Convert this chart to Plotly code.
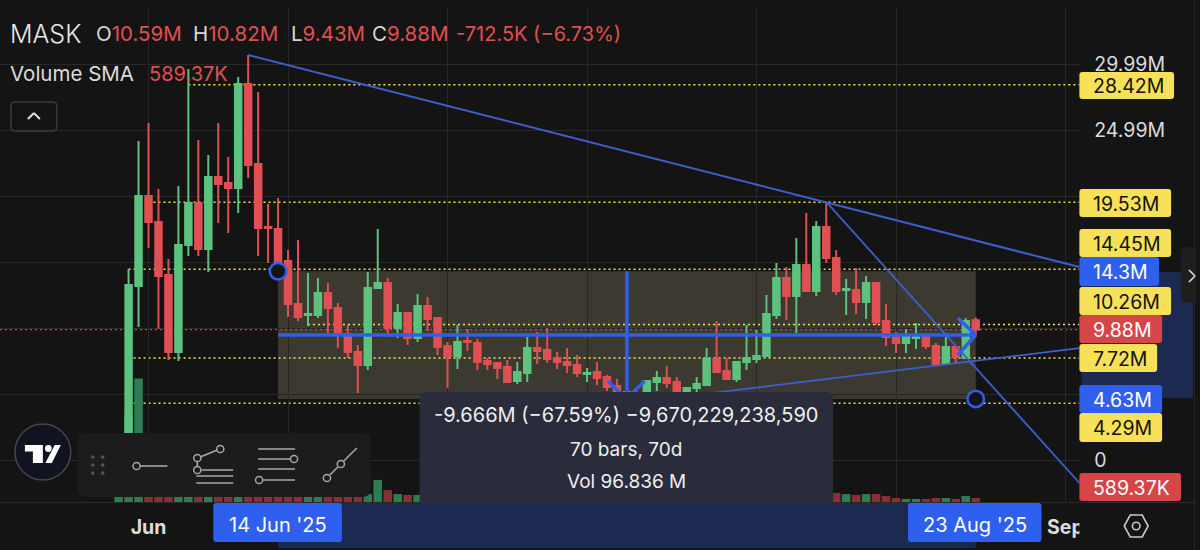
import pandas as pd
import plotly.graph_objects as go

FIRST_DAY = "2025-05-29"
opens = [1.6,1.5,13.18,20.0,18.03,14.02,8.18,16.29,19.47,15.98,21.44,20.98,20.61,28.48,22.42,17.65,17.5,15.08,11.82,10.98,10.98,12.65,11.52,9.55,8.18,7.2,13.03,13.41,10.0,11.14,9.24,11.67,10.76,8.64,7.88,9.02,8.86,7.5,7.35,7.05,5.98,6.59,8.48,8.33,7.73,7.42,7.2,6.52,6.67,6.29,5.61,5.15,4.85,4.78,5.91,6.21,5.91,5.08,5.45,5.68,7.65,6.74,6.14,7.42,7.65,7.88,10.98,13.79,12.42,14.77,12.80,17.65,15.30,12.88,12.88,11.97,13.41,10.53,9.32,8.86,9.24,9.32,8.64,7.27,8.56,7.73,10.59]
highs = [2.05,14.47,24.17,25.53,20.53,15.23,20.76,29.62,24.24,23.11,25.53,22.95,29.02,30.68,27.88,19.39,19.85,15.91,16.67,14.17,13.79,13.41,11.89,10.23,8.71,14.24,17.5,13.79,11.82,11.21,12.58,12.35,10.76,8.94,10.23,9.92,9.17,7.73,7.42,7.58,7.42,9.32,9.70,10.0,8.18,8.48,7.95,6.97,7.42,6.44,6.14,5.3,5.2,5.98,6.74,7.12,6.29,5.53,6.29,8.48,10.53,7.73,7.5,10.23,9.85,12.5,14.92,14.62,16.82,18.71,18.11,19.55,15.91,13.71,14.55,13.94,13.48,11.82,9.70,9.92,10.38,9.55,8.86,9.32,8.56,10.76,10.82]
lows = [1.5,1.2,10.08,16.06,9.92,7.58,7.5,15.45,15.45,14.24,17.95,17.2,18.71,21.36,15.45,14.92,14.24,10.83,10.53,10.15,10.76,9.62,8.48,7.73,5.08,6.82,13.03,9.32,9.24,8.71,8.94,9.77,7.95,5.45,6.89,8.26,6.82,6.82,6.14,5.83,5.76,5.91,7.27,7.35,6.89,6.59,6.29,5.91,5.68,5.23,4.85,4.63,4.66,4.7,5.23,5.45,4.92,4.95,5.15,5.68,6.67,6.06,5.91,6.82,7.35,7.88,10.68,10.61,9.62,12.80,12.42,14.92,12.5,10.98,11.06,10.68,10.23,8.64,8.11,8.11,8.41,8.41,7.12,7.27,7.35,7.65,9.43]
closes = [1.95,13.26,20.0,18.03,13.94,8.18,16.29,19.47,15.98,21.44,20.91,20.61,28.48,22.35,17.58,17.58,15.0,11.82,10.83,11.06,12.65,11.52,9.55,8.18,7.2,13.03,13.41,10.0,11.14,9.24,11.67,10.68,8.56,7.88,8.94,8.94,7.42,7.27,6.97,5.91,6.67,8.48,8.26,7.65,7.42,7.2,6.59,6.59,6.21,5.53,5.15,4.85,4.75,5.98,6.21,5.83,5.15,5.45,5.76,7.65,6.67,6.14,7.42,7.73,7.88,11.06,13.79,12.42,14.77,12.80,17.65,15.30,12.80,12.95,11.97,13.41,10.45,9.32,8.86,9.47,9.32,8.64,7.27,8.56,7.80,10.53,9.88]
volumes = [1.0,4.0,5.6,2.8,2.2,1.9,1.7,2.4,1.6,1.4,1.2,0.9,2.0,2.2,1.5,0.8,0.9,1.1,0.8,0.7,0.6,0.6,0.6,0.5,0.6,
           .36,1.0,.54,.36,.32,.32,
           .30,.28,.35,.30,.22,.25,.18,.16,.20,.15,.30,.20,.18,.15,.14,.14,.12,.16,.18,.20,.25,.15,.18,.16,.14,.15,.14,.40,.35,.18,.12,.15,.30,.70,.80,.60,.55,.90,.50,.75,.60,
           .41,.36,.32,.36,.36,.27,.18,.14,.14,.14,.18,.18,.14,.27,.18]

dates = pd.date_range(FIRST_DAY, periods=len(opens))

# drawing tools
peak_line_x = ["2025-06-11", "2025-09-02 09:36"]
peak_line_y = [30.68, 14.62]
drop_line_x = ["2025-08-08", "2025-09-02 09:36"]
drop_line_y = [19.55, -1.74]
rise_line_x = ["2025-07-19", "2025-09-02 09:36"]
rise_line_y = [4.28, 8.48]
measure_h_x = ["2025-06-14", "2025-08-23"]
measure_h_y = [9.47, 9.47]
measure_v_x = ["2025-07-19", "2025-07-19"]
measure_v_y = [14.3, 4.63]
ring_x = ["2025-06-14", "2025-08-23"]
ring_y = [14.3, 4.63]
box_dates = ["2025-06-14", "2025-08-23"]
box_prices = [14.3, 4.63]

level_values = [28.42, 19.53, 14.45, 10.26, 7.72, 4.29]
level_starts = ["2025-06-05", "2025-06-01 12:00", "2025-05-30", "2025-06-17", "2025-05-30 12:00", "2025-05-30 12:00"]
last_close = 9.88

grid_values = [0, 4.99, 9.99, 14.99, 19.99, 24.99, 29.99]
grid_labels = ["0", "", "", "", "", "24.99M", "29.99M"]
tick_dates = ["2025-06-01", "2025-06-15", "2025-07-01", "2025-07-15", "2025-08-01", "2025-08-15", "2025-09-01"]
tick_labels = ["<b>Jun</b>", "", "<b>Jul</b>", "15", "<b>Aug</b>", "15", "<b>Sep</b>"]

price_tags = [("28.42M", "#f7e158", "#111111", 72, 99, 1178), ("19.53M", "#f7e158", "#111111", 189, 217, 1175),
              ("14.45M", "#f7e158", "#111111", 229, 257, 1175), ("14.3M", "#2f5fee", "#ffffff", 257, 286, 1163),
              ("10.26M", "#f7e158", "#111111", 287, 315, 1175), ("9.88M", "#d64548", "#ffffff", 315, 343, 1166),
              ("7.72M", "#f7e158", "#111111", 344, 372, 1161), ("4.63M", "#2f5fee", "#ffffff", 385, 413, 1166),
              ("4.29M", "#f7e158", "#111111", 413, 442, 1166), ("589.37K", "#d64548", "#ffffff", 473, 501, 1185)]

W, H = 1200, 550
BG = "#141414"
GREEN, RED = "#5cc27e", "#e05052"
BLUE = "#2f5fee"
THIN = "#3d5fcc"
GLYPH = "#a8a8a8"
FONT = "Inter"


def X(p):
    return p / W


def Y(p):
    return 1 - p / H


def pt(x, y):
    return f"{X(x):.5f},{Y(y):.5f}"


def rrect(x0, y0, x1, y1, r=3, corners=(1, 1, 1, 1)):
    tl, tr, br, bl = [r * c for c in corners]
    return (f"M{pt(x0 + tl, y0)} L{pt(x1 - tr, y0)} Q{pt(x1, y0)} {pt(x1, y0 + tr)} "
            f"L{pt(x1, y1 - br)} Q{pt(x1, y1)} {pt(x1 - br, y1)} L{pt(x0 + bl, y1)} "
            f"Q{pt(x0, y1)} {pt(x0, y1 - bl)} L{pt(x0, y0 + tl)} Q{pt(x0, y0)} {pt(x0 + tl, y0)} Z")


shapes, anns = [], []


def paper_path(path, fill=None, line=None, width=0):
    s = dict(type="path", path=path, xref="paper", yref="paper", layer="above",
             line=dict(width=width, color=line or "rgba(0,0,0,0)"))
    s["fillcolor"] = fill or "rgba(0,0,0,0)"
    shapes.append(s)


def seg(x0, y0, x1, y1, color=GLYPH, width=1.6):
    shapes.append(dict(type="line", xref="paper", yref="paper", x0=X(x0), y0=Y(y0), x1=X(x1), y1=Y(y1),
                       layer="above", line=dict(color=color, width=width)))


def ring(cx, cy, r, color=GLYPH, fill="rgba(0,0,0,0)", width=1.5):
    shapes.append(dict(type="circle", xref="paper", yref="paper", x0=X(cx - r), x1=X(cx + r),
                       y0=Y(cy + r), y1=Y(cy - r), layer="above", fillcolor=fill,
                       line=dict(color=color, width=width)))


def text(x, y, t, size=19, color="#e8e8e8", anchor="left", weight=None):
    f = dict(family=FONT, size=size, color=color)
    if weight:
        f["weight"] = weight
    anns.append(dict(xref="paper", yref="paper", x=X(x), y=Y(y), text=t, showarrow=False, font=f,
                     xanchor=anchor, yanchor="middle", borderpad=0, borderwidth=0))


# levels and box below the candles
shapes.append(dict(type="rect", xref="x", yref="y2", x0=box_dates[0], x1=box_dates[1], y0=box_prices[0],
                   y1=box_prices[1], layer="below", fillcolor="#3b3930", line=dict(width=0)))
for v, s in zip(level_values, level_starts):
    shapes.append(dict(type="line", xref="x", yref="y2", x0=s, x1="2025-09-02 09:36", y0=v, y1=v, layer="below",
                       line=dict(color="#f5e35c", width=1.5, dash="2px,3px")))
shapes.append(dict(type="line", xref="x", yref="y2", x0="2025-05-17 02:24", x1="2025-09-02 09:36", y0=last_close,
                   y1=last_close, layer="below", line=dict(color="#c84848", width=1.5, dash="2px,3px")))

# arrow heads of the measure tool
for a, b, c, d in [(961, 318, 979, 335), (961, 355, 979, 335), (610, 381, 628, 399), (647, 381, 628, 399)]:
    seg(a, b, c, d, BLUE, 3.5)

# bottom and right panels
paper_path(rrect(1085, 272, 1197, 398, 0), "#1c2a52")
paper_path(rrect(279, 503, 979, 548, 0), "#1c2a52")
paper_path(rrect(1083, 503, 1200, 550, 0), BG)
seg(0, 502.5, 1200, 502.5, "#2a2a2a", 1)
seg(1198.5, 0, 1198.5, 550, "#262626", 1)
paper_path(rrect(1185, 247, 1200, 302, 6, (1, 0, 0, 1)), "#1e1e1e")
seg(1193, 270, 1199, 276, "#dddddd", 1.6)
seg(1199, 276, 1193, 282, "#dddddd", 1.6)

# tooltip
paper_path(rrect(421, 392, 836, 503, 8, (1, 1, 0, 0)), "#2a2c3b")
text(628.5, 415, "-9.666M (−67.59%) −9,670,229,238,590", 20, "#eeeeee", "center")
text(628.5, 449, "70 bars, 70d", 19, "#eeeeee", "center")
text(628.5, 481, "Vol 96.836 M", 19, "#eeeeee", "center")

# toolbar
paper_path(rrect(78, 433, 372, 497, 9), "#1c1c1c")
for dx in (93, 103):
    for dy in (457, 465, 473):
        ring(dx, dy, 1.6, "#555555", "#555555", 0.5)
seg(141, 466, 168, 466)
ring(137, 466, 3.6)
seg(201, 457, 218, 450)
seg(198, 462, 198, 466)
seg(202, 470, 234, 470)
seg(197, 476, 234, 476)
seg(197, 483, 234, 483)
ring(198, 458, 3.6)
ring(221, 449, 3.6)
ring(198, 470, 3.6)
seg(259, 449, 296, 449)
seg(259, 459, 291, 459)
seg(259, 469, 296, 469)
seg(264, 480, 296, 480)
ring(295, 459, 3.6)
ring(260, 480, 3.6)
seg(331, 475, 339, 467)
seg(345, 461, 358, 448)
ring(328, 478, 3.6)
ring(342, 464, 3.6)

# logo
ring(43, 452, 28, "#44464e", "#111420", 1.5)
paper_path("M" + " L".join(pt(a, b) for a, b in [(25, 445), (43, 445), (43, 463), (33, 463), (33, 451.5), (25, 451.5)]) + " Z", "#ffffff")
ring(48.5, 448.5, 3.4, "#ffffff", "#ffffff", 0)
paper_path("M" + " L".join(pt(a, b) for a, b in [(45.5, 463), (55, 445), (61, 445), (52, 463)]) + " Z", "#ffffff")

# up button
paper_path(rrect(11, 102, 57, 131, 4), None, "#3a3a3a", 1.5)
seg(28, 119, 34, 113, "#e0e0e0", 2)
seg(34, 113, 40, 119, "#e0e0e0", 2)

# settings icon
paper_path("M" + " L".join(pt(a, b) for a, b in [(1128, 526), (1134, 515), (1146, 515), (1152, 526), (1146, 537), (1134, 537)]) + " Z",
           None, "#c8c8c8", 1.6)
ring(1140, 526, 3.8, "#c8c8c8", "rgba(0,0,0,0)", 1.6)

# date tags
for x0, x1, label in [(214, 343, "14 Jun '25"), (911, 1045, "23 Aug '25")]:
    paper_path(rrect(x0, 503, x1, 542, 3), BLUE)
    text((x0 + x1) / 2, 525, label, 20, "#ffffff", "center")

# price tags
for label, fill, ink, y0, y1, x1 in price_tags:
    paper_path(rrect(1083, y0, x1, y1, 3), fill)
    text(1097, (y0 + y1) / 2 + 0.5, label, 19.5, ink)

# header
RT = "#e05052"
WT = "#d8d8d8"
text(10, 34, "MASK", 25, "#e8e8e8", weight=300)
for x, head, val in [(96, "O", "10.59M"), (194, "H", "10.82M"), (292, "L", "9.43M"), (373, "C", "9.88M")]:
    text(x, 34, f"<span style='color:{WT}'>{head}</span>{val}", 20.5, RT)
text(458, 34, "-712.5K (−6.73%)", 20, RT)
text(10, 74, "Volume SMA", 20.5, "#dcdcdc")
text(149, 74, "589.37K", 20, RT)

fig = go.Figure()
fig.add_trace(go.Bar(x=dates, y=volumes, yaxis="y", xaxis="x", showlegend=False,
                     marker=dict(color=["#2e7d52" if c >= o else "#8a3035" for o, c in zip(opens, closes)], line=dict(width=0))))
fig.add_trace(go.Candlestick(x=dates, open=opens, high=highs, low=lows, close=closes, yaxis="y2", xaxis="x",
                             whiskerwidth=0, showlegend=False,
                             increasing=dict(line=dict(color=GREEN, width=2), fillcolor=GREEN),
                             decreasing=dict(line=dict(color=RED, width=2), fillcolor=RED)))
for xs, ys, color, width in [(peak_line_x, peak_line_y, THIN, 2), (drop_line_x, drop_line_y, THIN, 1.8),
                             (rise_line_x, rise_line_y, THIN, 1.8), (measure_h_x, measure_h_y, BLUE, 3.5),
                             (measure_v_x, measure_v_y, BLUE, 3.5)]:
    fig.add_trace(go.Scatter(x=xs, y=ys, yaxis="y2", mode="lines", showlegend=False, cliponaxis=True,
                             line=dict(color=color, width=width), hoverinfo="skip"))
fig.add_trace(go.Scatter(x=ring_x, y=ring_y, yaxis="y2", mode="markers", showlegend=False, hoverinfo="skip",
                         marker=dict(size=16.5, color=BG, line=dict(color=BLUE, width=2.5))))

PTOP, PBOT = 8, 502
fig.update_layout(
    width=W, height=H, margin=dict(l=0, r=0, t=0, b=0), autosize=False,
    paper_bgcolor=BG, plot_bgcolor=BG, font=dict(family=FONT, color="#dcdcdc"),
    boxgap=0.07, bargap=0.14, showlegend=False, hovermode=False, dragmode=False,
    xaxis=dict(type="date", domain=[0, 1083 / W], range=["2025-05-17 02:24", "2025-09-02 09:36"],
               rangeslider=dict(visible=False), tickvals=tick_dates, ticktext=tick_labels, tickmode="array",
               showgrid=True, gridcolor="#282828", gridwidth=1, zeroline=False, showline=False,
               ticks="outside", ticklen=8, tickcolor="rgba(0,0,0,0)", tickfont=dict(family=FONT, size=19.5, color="#dcdcdc")),
    yaxis=dict(domain=[1 - PBOT / H, 1 - PTOP / H], range=[0, (PBOT - PTOP) * 0.0453], visible=False, fixedrange=True),
    yaxis2=dict(domain=[1 - PBOT / H, 1 - PTOP / H], overlaying="y", side="right", anchor="x",
                range=[(460 - PBOT) / 13.2, (460 - PTOP) / 13.2], tickmode="array", tickvals=grid_values,
                ticktext=grid_labels, showgrid=True, gridcolor="#282828", zeroline=False, showline=False,
                ticks="outside", ticklen=10, tickcolor="rgba(0,0,0,0)", tickfont=dict(family=FONT, size=19.5, color="#dcdcdc")),
    shapes=shapes, annotations=anns,
)
fig.write_html("out.html", config=dict(displayModeBar=False, responsive=False),
               post_script="document.body.style.margin='0';document.body.style.background='#141414';document.body.style.overflow='hidden';")
